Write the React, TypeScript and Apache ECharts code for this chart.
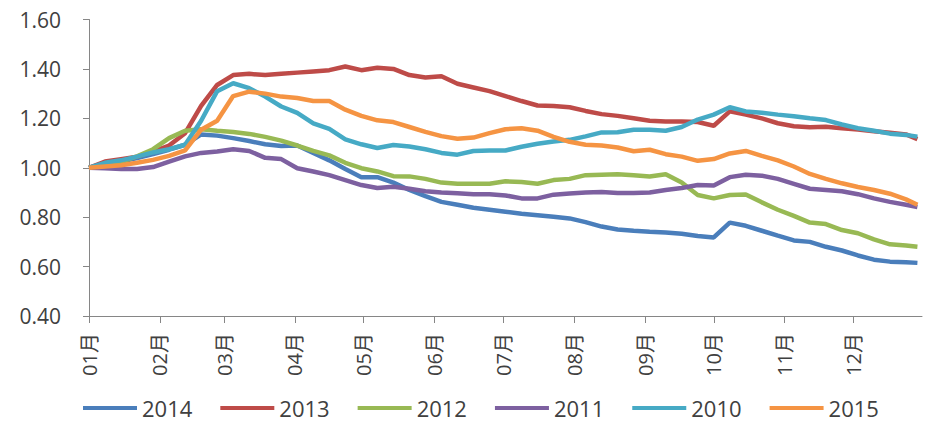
import React, { useEffect, useRef } from "react";
import * as echarts from "echarts";

// day-of-year of each weekly observation
const days = [
  0, 7, 14, 21, 28, 35, 42, 49, 56, 63, 70, 77, 84, 91, 98, 105, 112, 119, 126, 133,
  140, 147, 154, 161, 168, 175, 182, 189, 196, 203, 210, 217, 224, 231, 238, 245,
  252, 259, 266, 273, 280, 287, 294, 301, 308, 315, 322, 329, 336, 343, 350, 357, 362,
];

// month ticks (day-of-year of month start) and their labels
const monthStarts = [0, 31, 59, 90, 120, 151, 181, 212, 243, 273, 304, 334];
const monthLabels = ["01月", "02月", "03月", "04月", "05月", "06月", "07月", "08月", "09月", "10月", "11月", "12月"];

const yTicks = [0.4, 0.6, 0.8, 1.0, 1.2, 1.4, 1.6];

const s2014 = [
  1.0, 1.015, 1.025, 1.039, 1.055, 1.073, 1.093, 1.135, 1.13, 1.12, 1.108, 1.095, 1.088, 1.09,
  1.06, 1.03, 0.995, 0.962, 0.962, 0.94, 0.91, 0.885, 0.862, 0.85, 0.838, 0.83, 0.822, 0.814,
  0.808, 0.802, 0.795, 0.78, 0.762, 0.75, 0.745, 0.741, 0.738, 0.733, 0.724, 0.718, 0.778,
  0.765, 0.745, 0.725, 0.706, 0.7, 0.68, 0.665, 0.645, 0.628, 0.62, 0.618, 0.615,
];
const s2013 = [
  1.0, 1.025, 1.035, 1.045, 1.065, 1.09, 1.14, 1.25, 1.335, 1.375, 1.38, 1.375, 1.38, 1.385,
  1.39, 1.395, 1.41, 1.395, 1.405, 1.4, 1.375, 1.365, 1.37, 1.34, 1.325, 1.31, 1.29, 1.27,
  1.252, 1.25, 1.245, 1.23, 1.217, 1.21, 1.2, 1.19, 1.187, 1.187, 1.185, 1.17, 1.228, 1.215,
  1.2, 1.18, 1.168, 1.164, 1.166, 1.16, 1.155, 1.148, 1.142, 1.135, 1.116,
];
const s2012 = [
  1.0, 1.01, 1.025, 1.046, 1.075, 1.12, 1.15, 1.156, 1.15, 1.145, 1.137, 1.125, 1.11, 1.09,
  1.068, 1.05, 1.02, 0.998, 0.985, 0.966, 0.965, 0.955, 0.94, 0.935, 0.935, 0.935, 0.945,
  0.942, 0.935, 0.95, 0.955, 0.97, 0.972, 0.974, 0.97, 0.965, 0.974, 0.94, 0.89, 0.876, 0.89,
  0.892, 0.86, 0.83, 0.805, 0.778, 0.772, 0.748, 0.735, 0.71, 0.69, 0.685, 0.68,
];
const s2011 = [
  1.0, 0.998, 0.995, 0.995, 1.003, 1.025, 1.046, 1.06, 1.066, 1.075, 1.068, 1.04, 1.035, 0.998,
  0.985, 0.97, 0.95, 0.93, 0.918, 0.923, 0.915, 0.905, 0.9, 0.897, 0.893, 0.893, 0.888, 0.876,
  0.876, 0.891, 0.896, 0.9, 0.902, 0.898, 0.898, 0.9, 0.91, 0.918, 0.93, 0.928, 0.962, 0.972,
  0.968, 0.955, 0.935, 0.915, 0.91, 0.905, 0.893, 0.876, 0.862, 0.85, 0.841,
];
const s2010 = [
  1.0, 1.02, 1.03, 1.045, 1.062, 1.075, 1.093, 1.19, 1.31, 1.342, 1.322, 1.288, 1.248, 1.222,
  1.18, 1.157, 1.115, 1.095, 1.08, 1.092, 1.086, 1.075, 1.06, 1.053, 1.068, 1.07, 1.07, 1.085,
  1.097, 1.106, 1.113, 1.127, 1.143, 1.144, 1.154, 1.154, 1.15, 1.165, 1.195, 1.215, 1.245,
  1.228, 1.223, 1.215, 1.208, 1.2, 1.193, 1.175, 1.16, 1.15, 1.138, 1.133, 1.126,
];
const s2015 = [
  1.0, 1.005, 1.01, 1.02, 1.032, 1.048, 1.07, 1.154, 1.19, 1.29, 1.308, 1.3, 1.288, 1.282,
  1.27, 1.27, 1.235, 1.21, 1.192, 1.185, 1.165, 1.145, 1.128, 1.117, 1.122, 1.14, 1.156, 1.16,
  1.15, 1.125, 1.105, 1.093, 1.09, 1.082, 1.067, 1.073, 1.055, 1.045, 1.028, 1.035, 1.058,
  1.068, 1.048, 1.03, 1.005, 0.975, 0.955, 0.937, 0.922, 0.91, 0.895, 0.872, 0.85,
];

const seriesNames = ["2014", "2013", "2012", "2011", "2010", "2015"];
const seriesValues = [s2014, s2013, s2012, s2011, s2010, s2015];
const seriesColors = ["#4A7EBB", "#BE4B48", "#98B954", "#7D60A0", "#46AAC5", "#F59443"];

const FONT = "'Open Sans', 'Noto Sans CJK SC', sans-serif";

export default function App() {
  const ref = useRef<HTMLDivElement>(null);
  useEffect(() => {
    document.body.style.margin = "0";
    const chart = echarts.init(ref.current!, null, { renderer: "svg" });
    chart.setOption({
      animation: false,
      backgroundColor: "#ffffff",
      grid: { left: 89, right: 4, top: 19.5, bottom: 107 },
      legend: {
        data: seriesNames,
        left: 83,
        top: 395,
        padding: 0,
        icon: "rect",
        itemWidth: 54,
        itemHeight: 4,
        itemGap: 28,
        textStyle: {
          fontFamily: FONT,
          fontSize: 22,
          lineHeight: 26,
          color: "#404040",
        },
      },
      xAxis: {
        type: "value",
        min: 0,
        max: 364,
        splitLine: { show: false },
        axisLine: { show: true, lineStyle: { color: "#868686", width: 1 } },
        axisTick: {
          show: true,
          length: 7,
          customValues: monthStarts,
          lineStyle: { color: "#868686" },
        },
        axisLabel: {
          customValues: monthStarts,
          rotate: 90,
          margin: 17,
          fontFamily: FONT,
          fontSize: 20,
          color: "#404040",
          formatter: (v: number) => {
            const i = monthStarts.indexOf(Math.round(v));
            return i >= 0 ? monthLabels[i] : "";
          },
        },
      },
      yAxis: {
        type: "value",
        min: yTicks[0],
        max: yTicks[yTicks.length - 1],
        interval: 0.2,
        splitLine: { show: false },
        axisLine: { show: true, lineStyle: { color: "#868686", width: 1 } },
        axisTick: { show: true, length: 6, lineStyle: { color: "#868686" } },
        axisLabel: {
          margin: 28,
          fontFamily: FONT,
          fontSize: 21,
          color: "#404040",
          formatter: (v: number) => v.toFixed(2),
        },
      },
      series: seriesNames.map((name, i) => ({
        name,
        type: "line",
        data: days.map((d, j) => [d, seriesValues[i][j]]),
        showSymbol: false,
        symbol: "none",
        smooth: false,
        lineStyle: { color: seriesColors[i], width: 4.5 },
        itemStyle: { color: seriesColors[i] },
      })),
    });
    return () => chart.dispose();
  }, []);
  return <div ref={ref} style={{ width: 926, height: 423 }} />;
}
